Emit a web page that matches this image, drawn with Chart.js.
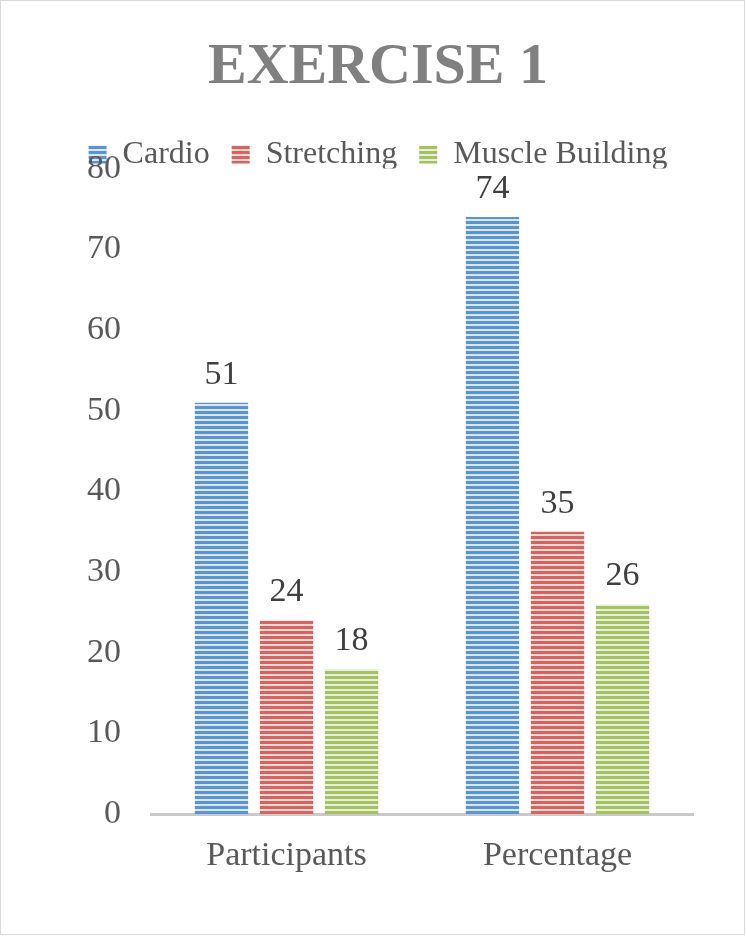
<!DOCTYPE html>
<html>
<head>
<meta charset="utf-8">
<script src="https://cdn.jsdelivr.net/npm/chart.js@4.4.1/dist/chart.umd.min.js"></script>
<style>
  html, body { margin: 0; padding: 0; background: #fff; }
  #frame { position: relative; width: 745px; height: 935px; box-sizing: border-box; border: 1px solid #d9d9d9; }
  #frame canvas { position: absolute; left: 0; top: 0; }
</style>
</head>
<body>
<div id="frame"><canvas id="exerciseChart" width="743" height="933"></canvas></div>
<script>
// --- DATA ---
const categories = ['Participants', 'Percentage'];
const seriesNames = ['Cardio', 'Stretching', 'Muscle Building'];
const cardioValues = [51, 74];
const stretchingValues = [24, 35];
const muscleValues = [18, 26];
const yTicks = [0, 10, 20, 30, 40, 50, 60, 70, 80];

const SERIF = "'Liberation Serif', 'DejaVu Serif', serif";

// horizontal stripe fill like the Office pattern
function stripes(color, light) {
    const c = document.createElement('canvas');
    c.width = 4; c.height = 5;
    const g = c.getContext('2d');
    g.fillStyle = light; g.fillRect(0, 0, 4, 5);
    g.fillStyle = color; g.fillRect(0, 0, 4, 3);
    return g.createPattern(c, 'repeat');
}

document.addEventListener('DOMContentLoaded', () => {
    const ctx = document.getElementById('exerciseChart').getContext('2d');
    const fills = [
        stripes('#5b95d0', '#dbe6f3'),
        stripes('#d3645e', '#f4d6d4'),
        stripes('#a5c263', '#e8f0d8')
    ];
    const valueSets = [cardioValues, stretchingValues, muscleValues];

    const valueLabels = {
        id: 'valueLabels',
        afterDatasetsDraw(chart) {
            const c = chart.ctx;
            c.save();
            c.font = `34px ${SERIF}`;
            c.fillStyle = '#404040';
            c.textAlign = 'center';
            c.textBaseline = 'bottom';
            chart.data.datasets.forEach((ds, i) => {
                chart.getDatasetMeta(i).data.forEach((bar, j) => {
                    c.fillText(ds.data[j], bar.x, bar.y - 11);
                });
            });
            c.restore();
        }
    };

    new Chart(ctx, {
        type: 'bar',
        data: {
            labels: categories,
            datasets: seriesNames.map((name, i) => ({
                label: name,
                data: valueSets[i],
                backgroundColor: fills[i],
                borderWidth: 0,
                categoryPercentage: 0.72,
                barPercentage: 0.82
            }))
        },
        options: {
            responsive: false,
            animation: false,
            layout: { padding: { top: 0, left: 62, right: 51, bottom: 37 } },
            scales: {
                x: {
                    grid: { display: false, drawTicks: false },
                    border: { display: true, color: '#c9c9c9', width: 3 },
                    ticks: { color: '#595959', font: { family: SERIF, size: 34 }, padding: 21 }
                },
                y: {
                    min: 0, max: 80,
                    afterBuildTicks: (axis) => { axis.ticks = yTicks.map(v => ({ value: v })); },
                    afterFit: (axis) => { axis.width = 88; },
                    grid: { display: false, drawTicks: false },
                    border: { display: false },
                    ticks: { color: '#595959', font: { family: SERIF, size: 34 }, padding: 30 }
                }
            },
            plugins: {
                title: {
                    display: true,
                    text: 'EXERCISE 1',
                    color: '#808080',
                    font: { family: SERIF, size: 58, weight: 'bold' },
                    padding: { top: 32, bottom: 14 }
                },
                legend: {
                    position: 'top',
                    maxHeight: 52,
                    labels: {
                        color: '#595959',
                        font: { family: SERIF, size: 32 },
                        boxWidth: 18,
                        boxHeight: 18,
                        padding: 22
                    }
                },
                tooltip: { enabled: false }
            }
        },
        plugins: [valueLabels]
    });
});
</script>
</body>
</html>
